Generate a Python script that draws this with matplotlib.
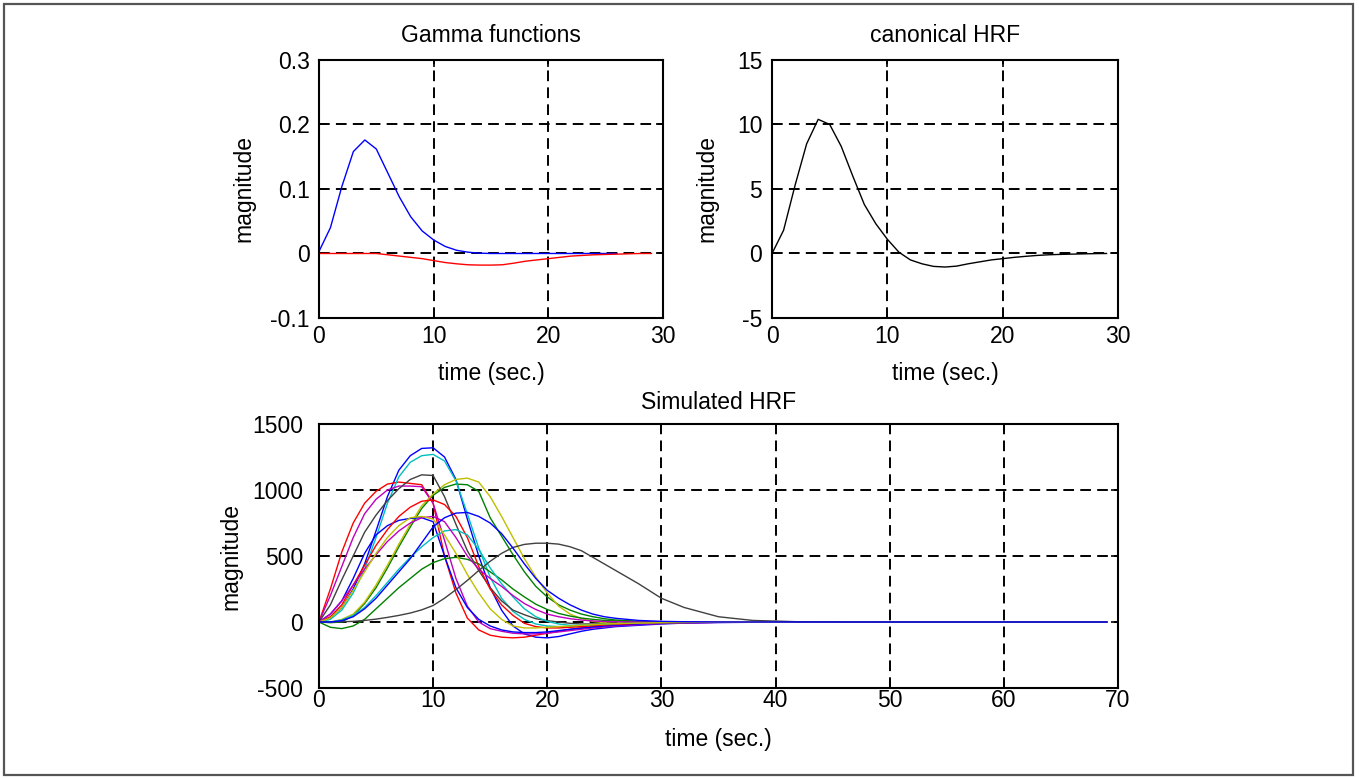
import numpy as np
import matplotlib
matplotlib.use("Agg")
import matplotlib.pyplot as plt
from matplotlib.patches import Rectangle

# ---------------- data ----------------
# Gamma functions (top-left)
t_gamma_pos = list(range(0, 27))
gamma_pos = [0.003, 0.04, 0.104, 0.158, 0.176, 0.162, 0.125, 0.088, 0.057, 0.035,
             0.021, 0.011, 0.005, 0.002, 0.0005, 0, 0, 0, 0, 0,
             0, 0, 0, 0, 0, 0, 0]
t_gamma_neg = list(range(0, 30))
gamma_neg = [0, 0, 0, 0, 0, 0, -0.002, -0.004, -0.006, -0.008,
             -0.011, -0.014, -0.016, -0.0175, -0.018, -0.018, -0.0175, -0.015, -0.012, -0.010,
             -0.008, -0.006, -0.004, -0.003, -0.002, -0.0015, -0.001, -0.0005, 0, 0]

# canonical HRF (top-right)
t_hrf = list(range(0, 30))
hrf = [0, 1.8, 5.3, 8.5, 10.4, 10.0, 8.3, 6.0, 3.8, 2.3,
       1.1, 0.1, -0.5, -0.8, -1.0, -1.05, -0.98, -0.8, -0.65, -0.5,
       -0.4, -0.3, -0.22, -0.15, -0.1, -0.07, -0.05, -0.03, -0.01, 0]

# Simulated HRFs (bottom)
t_sim = [0, 1, 2, 3, 4, 5, 6, 7, 8, 9, 10, 11, 12, 13, 14, 15, 16, 17, 18, 19,
         20, 21, 22, 23, 24, 25, 26, 28, 30, 32, 35, 38, 42, 50, 60, 69]

sim_b1 = [0, 30, 110, 250, 440, 690, 950, 1150, 1260, 1315,
          1320, 1250, 1080, 780, 500, 260, 90, -30, -90, -115,
          -120, -110, -90, -70, -55, -45, -35, -25, -15, -8, -4, -2, 0, 0, 0, 0]
sim_g1 = [0, -5, 0, 50, 140, 260, 410, 570, 720, 860,
          960, 1020, 1045, 1040, 990, 790, 650, 510, 380, 270,
          190, 130, 90, 60, 40, 25, 15, 5, 0, -2, -1, 0, 0, 0, 0, 0]
sim_r1 = [0, 250, 530, 750, 900, 990, 1045, 1060, 1050, 1040,
          900, 500, 220, 30, -60, -100, -115, -120, -115, -100,
          -85, -70, -55, -45, -35, -28, -22, -14, -8, -5, -2, -1, 0, 0, 0, 0]
sim_c1 = [0, 20, 90, 220, 400, 640, 900, 1100, 1210, 1260,
          1270, 1220, 1070, 820, 560, 340, 180, 80, 20, -15,
          -30, -35, -35, -30, -25, -20, -15, -10, -5, -3, -1, 0, 0, 0, 0, 0]
sim_m1 = [0, 200, 420, 640, 820, 930, 1000, 1030, 1030, 1025,
          900, 620, 330, 120, 0, -50, -70, -85, -90, -90,
          -85, -75, -65, -55, -45, -38, -30, -20, -12, -7, -3, -1, 0, 0, 0, 0]
sim_y1 = [0, 0, 20, 60, 150, 280, 430, 590, 740, 880,
          970, 1040, 1080, 1090, 1060, 950, 800, 640, 480, 340,
          220, 120, 60, 25, 5, -5, -10, -10, -5, -3, -1, 0, 0, 0, 0, 0]
sim_k1 = [0, 130, 320, 500, 680, 810, 920, 1010, 1080, 1115,
          1110, 950, 740, 540, 390, 260, 160, 90, 55, 25,
          10, 0, -10, -15, -15, -12, -10, -6, -3, -1, 0, 0, 0, 0, 0, 0]
sim_b2 = [0, 60, 160, 330, 520, 660, 730, 770, 785, 790,
          760, 500, 260, 110, 20, -30, -60, -75, -80, -80,
          -75, -65, -55, -45, -38, -30, -24, -15, -9, -5, -2, -1, 0, 0, 0, 0]
sim_g2 = [0, -40, -50, -30, 20, 100, 180, 260, 330, 400,
          450, 480, 490, 475, 440, 380, 320, 250, 190, 135,
          95, 65, 45, 30, 20, 12, 8, 3, 0, 0, 0, 0, 0, 0, 0, 0]
sim_r2 = [0, 40, 130, 280, 430, 580, 700, 800, 870, 915,
          925, 890, 800, 640, 420, 250, 130, 50, -10, -35,
          -45, -45, -40, -35, -28, -22, -18, -10, -5, -3, -1, 0, 0, 0, 0, 0]
sim_c2 = [0, 0, 15, 50, 110, 200, 300, 400, 490, 570,
          640, 690, 700, 660, 550, 410, 290, 190, 100, 40,
          5, -15, -25, -25, -20, -15, -12, -6, -3, -1, 0, 0, 0, 0, 0, 0]
sim_m2 = [0, 60, 160, 280, 400, 510, 610, 690, 750, 790,
          800, 760, 640, 500, 400, 330, 270, 200, 140, 95,
          60, 40, 25, 15, 8, 4, 2, 0, 0, 0, 0, 0, 0, 0, 0, 0]
sim_y2 = [0, 30, 110, 240, 380, 520, 640, 730, 790, 800,
          780, 660, 520, 360, 220, 100, 20, -30, -45, -45,
          -40, -35, -30, -25, -20, -15, -12, -8, -5, -3, -1, 0, 0, 0, 0, 0]
sim_k2 = [0, 0, 2, 5, 12, 22, 35, 50, 68, 92,
          125, 180, 245, 315, 390, 460, 520, 565, 588, 597,
          597, 590, 570, 540, 490, 440, 390, 290, 180, 110, 40, 12, 2, 0, 0, 0]
sim_b3 = [0, 0, 10, 40, 100, 180, 280, 380, 480, 600,
          720, 790, 825, 830, 800, 750, 670, 560, 440, 330,
          240, 180, 130, 90, 60, 40, 28, 12, 5, 2, 0, 0, 0, 0, 0, 0]

sim_series = [sim_b1, sim_g1, sim_r1, sim_c1, sim_m1, sim_y1, sim_k1,
              sim_b2, sim_g2, sim_r2, sim_c2, sim_m2, sim_y2, sim_k2, sim_b3]

# ---------------- style ----------------
COLORS = ['#0000ff', '#008000', '#ff0000', '#00bfbf', '#bf00bf', '#bfbf00', '#404040']
FS = 16.5
plt.rcParams['font.family'] = ['Liberation Sans', 'DejaVu Sans']
plt.rcParams['axes.unicode_minus'] = False

fig = plt.figure(figsize=(13.59, 7.79), dpi=100)
fig.patch.set_facecolor('white')
fig.patches.append(Rectangle((4/1359, 4/779), 1349/1359, 771/779, transform=fig.transFigure,
                             fill=False, edgecolor='#555555', linewidth=1.6))

grid_kw = dict(color='black', linestyle=(0, (5.5, 3.2)), linewidth=1.4)


def style(ax, xlim, ylim, xticks, yticks, xpad, ypad, xlabpad, ylabpad, yticklabels=None):
    ax.set_xlim(*xlim)
    ax.set_ylim(*ylim)
    ax.set_xticks(xticks)
    ax.set_yticks(yticks)
    if yticklabels is not None:
        ax.set_yticklabels(yticklabels)
    ax.tick_params(direction='in', length=5, width=1.2, labelsize=FS,
                   top=True, right=True, colors='black')
    ax.tick_params(axis='x', pad=xpad)
    ax.tick_params(axis='y', pad=ypad)
    for s in ax.spines.values():
        s.set_linewidth(1.5)
    for xv in xticks[1:-1]:
        ax.axvline(xv, **grid_kw, zorder=0.5)
    for yv in yticks[1:-1]:
        ax.axhline(yv, **grid_kw, zorder=0.5)
    ax.set_xlabel('time (sec.)', fontsize=FS, labelpad=xlabpad)
    ax.set_ylabel('magnitude', fontsize=FS, labelpad=ylabpad)


# top-left
ax1 = fig.add_axes([0.2347, 0.5918, 0.2531, 0.3312])
ax1.plot(t_gamma_pos, gamma_pos, color='#0000ff', lw=1.0)
ax1.plot(t_gamma_neg, gamma_neg, color='#ff0000', lw=1.0)
style(ax1, (0, 30), (-0.1, 0.3), [0, 10, 20, 30], [-0.1, 0, 0.1, 0.2, 0.3],
      xpad=5, ypad=6.5, xlabpad=10, ylabpad=11,
      yticklabels=['-0.1', '0', '0.1', '0.2', '0.3'])
ax1.set_title('Gamma functions', fontsize=FS, pad=13)

# top-right
ax2 = fig.add_axes([0.5681, 0.5918, 0.2546, 0.3312])
ax2.plot(t_hrf, hrf, color='black', lw=1.0)
style(ax2, (0, 30), (-5, 15), [0, 10, 20, 30], [-5, 0, 5, 10, 15],
      xpad=5, ypad=7, xlabpad=10, ylabpad=13)
ax2.set_title('canonical HRF', fontsize=FS, pad=13)

# bottom
ax3 = fig.add_axes([0.2347, 0.1168, 0.5879, 0.3389])
for i, ys in enumerate(sim_series):
    ax3.plot(t_sim, ys, color=COLORS[i % 7], lw=1.0)
style(ax3, (0, 70), (-500, 1500), list(range(0, 80, 10)), [-500, 0, 500, 1000, 1500],
      xpad=1, ypad=11.5, xlabpad=11, ylabpad=7)
ax3.set_title('Simulated HRF', fontsize=FS, pad=11)

fig.savefig('out.png', dpi=100)
